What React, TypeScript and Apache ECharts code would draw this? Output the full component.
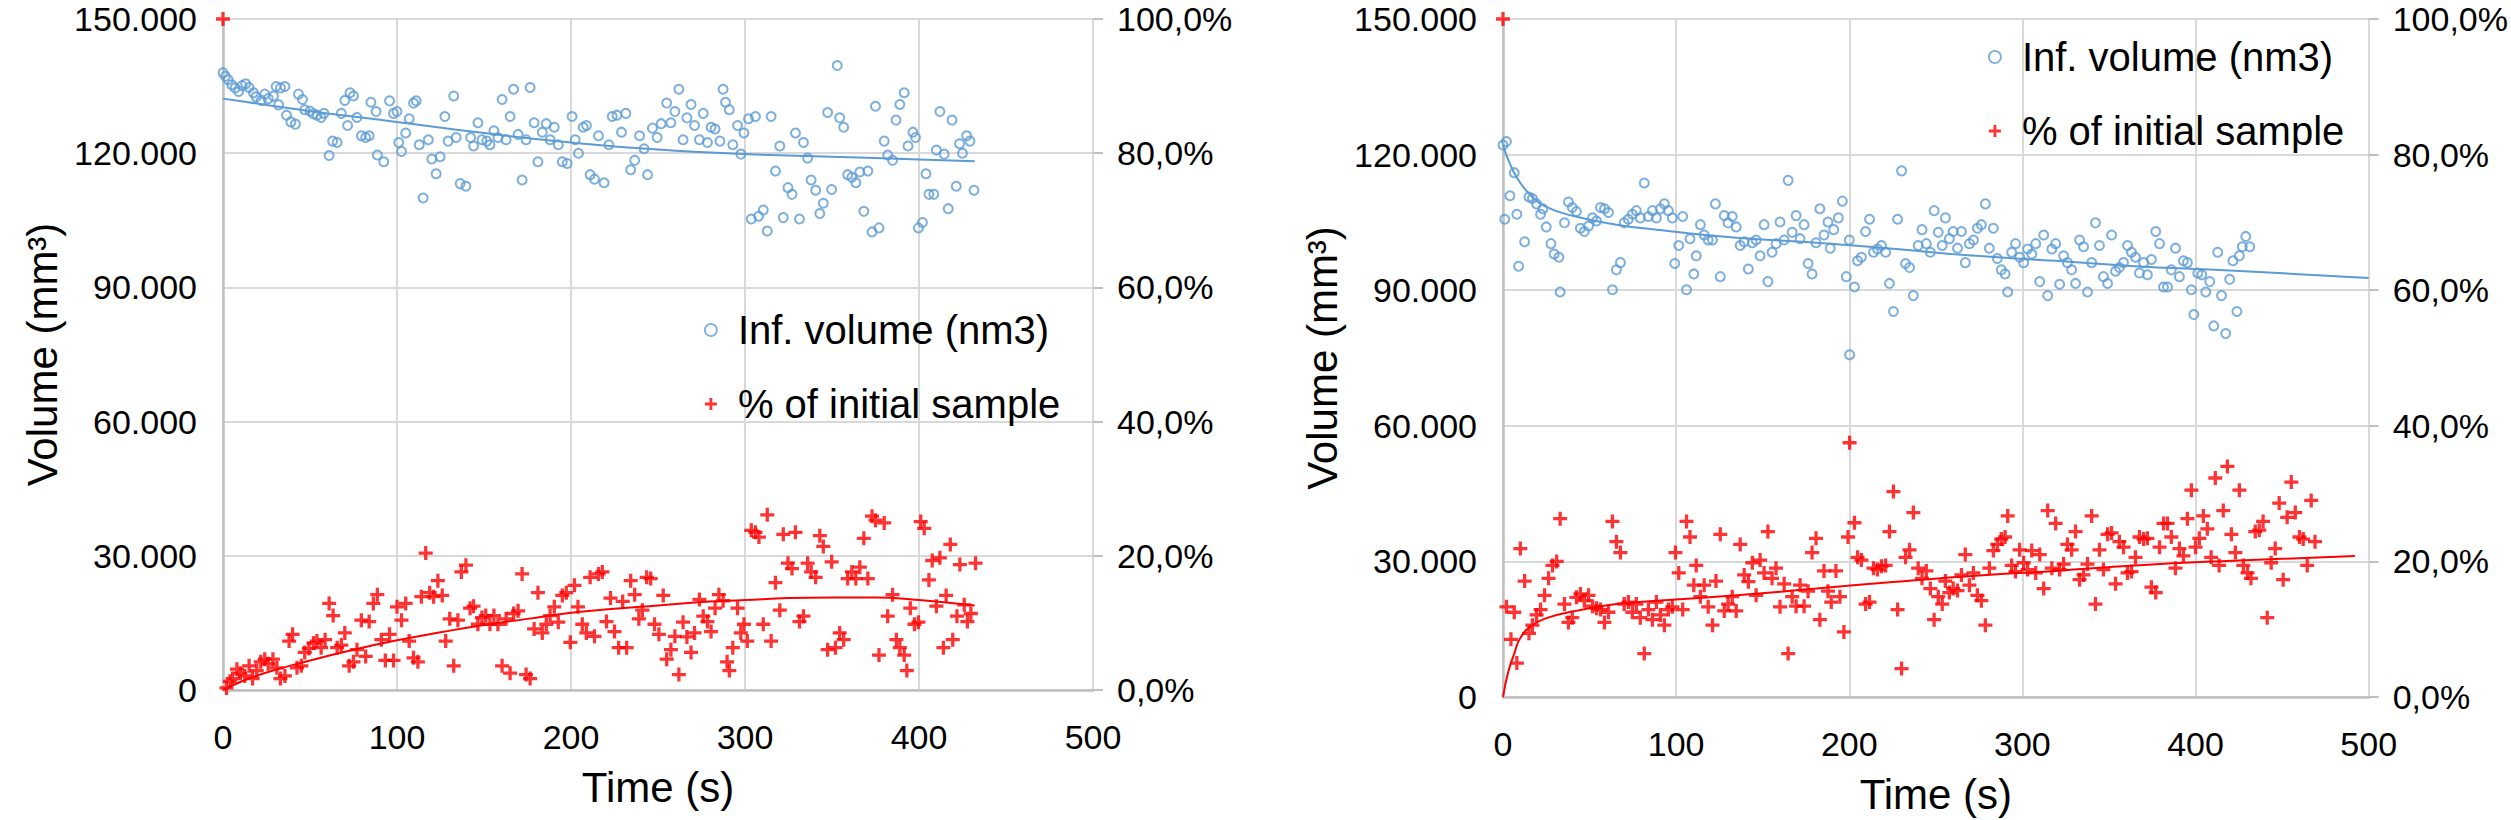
import React, { useEffect, useRef } from "react";
import * as echarts from "echarts";

// Series names (legend)
const NAME_VOL = "Inf. volume (nm3)";
const NAME_PCT = "% of initial sample";

// Axis ranges / ticks
const TIME_MAX = 500;
const TIME_STEP = 100;
const VOL_MAX = 150; // thousands
const VOL_STEP = 30;
const PCT_MAX = 100;
const PCT_STEP = 20;

// Left panel: volume [time s, volume in thousands]
const volA: number[][] = [
  [0,138],[1.4,137.2],[3,136.4],[5,135.3],[7,134.6],[9,133.8],[11,135.1],[13,135.5],[15,134.7],[17.5,133.5],
  [19,132.6],[22,131.8],[24,133.2],[26,132.2],[29,132.8],[30.5,134.9],[33,134.6],[35.6,134.9],[32,130.8],[36.5,128.5],
  [39,127],[41.6,126.5],[43.4,133.2],[45.7,132],[47,129.7],[50,129.4],[52,128.8],[54,128.5],[56.4,128],[58,128.9],
  [61,119.5],[63,122.7],[65.6,122.4],[68,128.9],[70,131.8],[73,133.5],[75,132.8],[71.6,126.2],[77,128],[79.5,123.9],
  [82,123.5],[84,123.9],[85,131.4],[88,129.3],[88.7,119.6],[92.4,118.1],[95.7,131.7],[98,128.9],[100,129.3],[101,122.4],
  [102.6,120.4],[105,124.5],[107,127.7],[109.5,131.2],[111,131.7],[112.8,121.9],[115,110],[118,123],[120,118.7],[122.5,115.4],
  [124.8,119.2],[127.5,128.2],[129.4,122.7],[132.6,132.8],[134,123.5],[136.3,113.2],[139.6,112.6],[142.3,123.5],[144,121.6],[146.5,126.8],
  [148.8,123],[151.6,122.7],[153.4,121.9],[155.7,125],[158,123.5],[160.4,132],[162.7,123],[165,128.2],[167,134.3],[169.6,124.2],
  [171.9,114],[174.2,123],[176.5,134.7],[178.8,126.8],[181,118.1],[183.5,124.7],[185.8,126.6],[188,123],[190.4,125.8],[192.7,121.9],
  [195,118.1],[197.8,117.7],[200.6,128.2],[202.4,123],[204.3,120],[207,125.8],[208.9,126.2],[211,115.2],[213.5,114.2],[215.8,123.9],
  [219,113.4],[221.8,121.9],[223.7,128.2],[226.4,128.5],[229,124.7],[231.5,128.9],[234.3,116.3],[236.6,118.4],[239.4,123.9],[242,121],
  [244,115.2],[246.8,125.6],[249.5,123.5],[251.8,126.6],[255,131.2],[257.4,126.8],[259.7,129.3],[262,134.3],[264.4,123],[266.6,127.9],
  [269,130.9],[271,126.2],[273.8,123],[276,128.9],[278.4,122.4],[280.5,125.8],[282.8,125.4],[285.6,122.7],[287.4,134.3],[288.8,131.4],
  [291,129.7],[293,121.9],[295.7,126.2],[297.6,119.8],[299.4,124.5],[302,127.7],[303.6,105.3],[306,128.2],[307.8,105.9],[310.5,107.3],
  [312.8,102.6],[315,128.2],[317.5,116],[320,121.6],[322,105.6],[324.7,112.3],[327,110.8],[329,124.5],[331.3,105.3],[333.6,122.4],
  [336,118.9],[338,114],[340.6,111.7],[343,106.5],[345,108.8],[347.5,129.1],[349.8,111.9],[353,139.6],[354.4,127.9],[356.7,125.8],
  [359,115.2],[361.4,114.6],[363.7,113.4],[366,115.8],[368.3,107],[370.6,116],[373,102.4],[375,130.5],[377,103.3],[380,122.7],
  [382,119.6],[384.8,118.4],[386.8,127.4],[389,130.9],[391.5,133.5],[393.7,121.6],[396.5,124.7],[398,123.5],[399.7,103.3],[402,104.5],
  [404,115.4],[405.7,110.8],[408.5,110.8],[410,120.7],[412,129.3],[414.5,119.8],[416.8,107.6],[419,127.4],[421.4,112.6],[423.3,122.1],
  [425,120],[427.4,123.9],[429.3,122.7],[431.6,111.7]
];

// Left panel: % of initial sample [time s, %]
const pctA: number[][] = [
  [0,100],[2,0.3],[4,1.3],[5.5,1.7],[8,3.1],[10,2.5],[12.5,2.1],[15,3.6],[17,1.7],[19.4,2.9],
  [21.7,4.2],[24,4.6],[26,3.9],[28.7,4.6],[31,3.3],[33,1.7],[35.6,2.1],[38,7.3],[40,8.3],[42.5,3.3],
  [45,3.6],[47,5.6],[49.4,6.2],[52,7],[54,7.3],[56.4,6.3],[58.7,7.5],[61,12.9],[63.3,11.1],[65.6,6.3],
  [68,6.7],[70,8.5],[72.5,3.6],[75,4.2],[77,6],[79.5,10.4],[82,5],[84,10.2],[86.4,12.9],[88.7,14.2],
  [91,7.5],[93.3,4.4],[95.7,8.3],[98,4.4],[100,12.4],[102.6,10.4],[105,12.9],[107,7.3],[109.5,4.8],[112,4.2],
  [114,13.9],[116.5,20.4],[118.8,14.5],[121,13.9],[123.5,16.3],[126,14.1],[128,7.3],[130.3,10.6],[132.6,3.6],[135,10.4],
  [137,17.6],[139.6,18.6],[142,12.2],[144,12.5],[146.5,9.8],[148.8,10.8],[151,11.1],[153.4,9.8],[155.7,11.1],[158,9.8],
  [160.4,3.6],[162.7,10.6],[165,2.5],[167,11.4],[169.6,11.8],[171.9,17.3],[174.2,2.3],[176.5,1.7],[178.8,9.1],[181,14.5],
  [183.5,8.5],[185.8,9.8],[188,11.1],[190.4,12.4],[192.7,10.1],[195,14.1],[197.3,14.5],[199.6,7.1],[202,15.6],[204,12.4],
  [206.5,9.8],[208.8,8.5],[211,16.8],[213.5,8],[215.8,17.3],[218,17.6],[220.4,10.2],[222.7,13.7],[225,8.7],[227.4,6.3],
  [229.7,13.2],[232,6.3],[234.3,16.3],[236.6,14.2],[239,10.6],[241,11.9],[243.5,16.8],[245.8,16.6],[248,9.8],[250.5,8.3],
  [253,14.1],[255,4.6],[257.4,6],[259.7,8],[262,2.3],[264.4,10.1],[266.6,7.9],[269,5.6],[271,8.5],[273.8,13.5],
  [276,11],[278.4,10.2],[280.5,8.7],[282.8,12.2],[285,14.2],[287.4,13.3],[289.7,4.2],[291,2.9],[293,6.3],[295.7,12.2],
  [297.6,8.5],[299.4,9.8],[301.3,7.3],[303.6,23.8],[306,23.5],[308,22.8],[310.5,9.8],[312.8,26.1],[315,7.3],[317.5,16],
  [320,11.9],[322,23.2],[324.7,18.9],[327,18.1],[329,23.5],[331.3,10.2],[333.6,11],[336,18.9],[338,17.6],[340.6,16.8],
  [343,23],[345,21.4],[347.5,6],[349.8,19.1],[352,6.3],[354.4,8.5],[356.7,7.5],[359,16.6],[361.4,17.6],[363.7,16.6],
  [366,18.3],[368.3,22.6],[370.6,16.6],[373,25.9],[375,25.3],[377,5.2],[380,24.9],[382,11],[384.8,14.2],[387,7.5],
  [389,6.3],[391.5,5.2],[393,2.9],[395,12.2],[397.4,9.8],[399.7,10.1],[401,25.1],[403,24.1],[405.7,16.4],[407.6,19.3],
  [410,12.5],[412,19.7],[414,6.3],[415.6,14.1],[418,21.7],[419.4,7.5],[421.8,11],[423.5,18.7],[426,12.7],[427.8,10.2],
  [429.8,11.4],[432.5,18.9]
];

// Left panel trend lines
const volTrendA: number[][] = [
  [0,132.2],[25,130.8],[50,129.4],[100,127],[150,124.5],[200,122.4],[250,120.8],[300,119.8],[350,119.2],[400,118.6],[432,118.2]
];
const pctTrendA: number[][] = [
  [0,0],[10,1.2],[25,2.6],[50,4.4],[75,6],[100,7.4],[125,8.6],[150,9.7],[175,10.6],[200,11.5],
  [225,12.1],[250,12.6],[275,13.1],[300,13.4],[325,13.7],[350,13.8],[375,13.8],[400,13.4],[432,12.6]
];

// Right panel: volume [time s, volume in thousands]
const volB: number[][] = [
  [0,122.1],[2,122.9],[1,105.7],[4,110.9],[6.5,116],[8,106.8],[9,95.3],[12.5,100.7],[15,110.6],[17,110.3],
  [19.4,109.1],[21.7,106.8],[23,108],[25,104],[27.7,100.3],[29.5,98],[32.3,97.3],[33,89.6],[35.5,104.9],[37.8,109.5],
  [40,108.3],[42.4,107.4],[44.7,103.7],[47,103],[49.4,104.2],[51.7,106],[54,105.3],[56.3,108.3],[58.6,108],[60.9,107.2],
  [63.2,90.1],[65.5,94.5],[67.8,96.1],[70,104.9],[72.4,105.7],[74.7,106.8],[77,107.6],[79.3,106],[81.6,113.7],[84,106.3],
  [86.3,107.6],[88.6,106],[90.9,108],[93.2,109.1],[95.5,107.6],[97.8,106],[99.2,95.9],[101.5,99.9],[103.8,106.3],[106,90.1],
  [108,101.4],[110.2,93.6],[111.6,97.6],[114,104.5],[116.2,102.2],[118.5,101.1],[121,101.1],[122.7,109.1],[125.5,93],[127.8,106.5],
  [130,104.9],[132.4,106.3],[134.7,104],[137,99.9],[139.3,100.7],[141.7,94.7],[144,100.5],[146.2,101.1],[148.5,97.6],[150.8,104.5],
  [153,91.9],[155.4,98.4],[157.7,100.3],[160,105.1],[162.4,101.1],[164.7,114.3],[167,102.8],[169.3,106.5],[171.6,101.4],[173.9,104.5],
  [176.2,95.9],[178.5,93.6],[180.8,100.5],[183,108],[185.4,102.2],[187.7,105.1],[189,99.3],[191,103.4],[193.7,106],[196,109.7],
  [198.3,93],[200,101.1],[200.2,75.7],[203,90.7],[204.8,96.5],[207,97.3],[209.4,103],[211.7,105.7],[214,98.4],[216.3,99.1],
  [218.6,99.9],[221,98.4],[223.2,91.5],[225.5,85.3],[227.9,105.7],[230.2,116.4],[232.5,95.9],[234.8,95],[237,88.8],[239.8,99.9],
  [242,103.4],[244.5,100.3],[246.8,98.4],[249,107.6],[251.4,102.8],[253.7,99.9],[255.5,106],[257.8,101.4],[260,103],[262.5,99.3],
  [264.8,103],[267,96.1],[269.4,100.3],[271.7,101.1],[274,103.7],[276.3,104.5],[278.6,109.1],[280.9,99.3],[283.2,103.7],[285.5,97],
  [287.8,94.5],[290,93.6],[291.5,89.6],[293.8,98.4],[296,100.3],[298.4,97.3],[300.7,96.1],[303,99.1],[305.4,98],[307.7,100.3],
  [310,91.9],[312.3,102.2],[314.6,88.8],[317,99.1],[319.2,100.3],[321.5,91.3],[323.8,97.6],[326,96.1],[328.4,94.5],[330.7,91.5],
  [333,101.1],[335.3,99.6],[337.6,89.6],[340,96.1],[342.2,104.9],[344.5,99.9],[346.8,93],[349.2,91.5],[351.5,102.2],[353.8,94.2],
  [356,95],[358.4,96.1],[360.7,99.9],[363,98.4],[365.3,97.3],[367.6,93.8],[370,96.1],[372.2,93.4],[374.5,96.8],[377,103],
  [379.2,100.3],[381.5,90.7],[383.8,90.7],[386,94.5],[388.4,99.3],[390.7,93],[393,96.5],[395.3,96.1],[397.6,90.1],[399,84.6],
  [401.3,93.8],[403.6,93.4],[405.9,89.6],[408.2,91.9],[410.5,82.1],[412.8,98.4],[415,88.8],[417.4,80.4],[419.7,92.4],[421.6,96.5],
  [423.9,85.3],[425.3,97.6],[427,99.6],[429,101.9],[431.3,99.6]
];

// Right panel: % of initial sample [time s, %]
const pctB: number[][] = [
  [0,100],[2,13.3],[4.6,8.5],[6.5,12.5],[8,5],[10,21.9],[12.5,17.1],[15,9.4],[17,10.6],[19.4,12.1],
  [21.7,12.9],[24,15],[26.3,17.5],[28.6,19.4],[31,20],[33,26.3],[35.5,13.7],[37.8,11],[40,11.7],[42.4,14.7],
  [44.7,15.2],[47,14.2],[49.4,15],[51.7,13.4],[54,13.1],[56.3,12.9],[58.6,11],[60.9,12.5],[63.2,25.9],[65.5,22.9],
  [67.8,21.3],[70,13.7],[72.4,14],[74.7,12.5],[77,13.7],[79.3,11.7],[81.6,6.4],[84,12.9],[86.3,11.4],[88.6,14],
  [90.9,12.1],[93.2,10.6],[95.5,12.9],[97.8,13.3],[99.6,21.3],[101.5,18.3],[103.8,12.9],[106,25.9],[108,23.6],[110.2,16.5],
  [111.6,19.4],[114,14.8],[116.2,16.5],[118.5,13.3],[121,10.6],[123,17.1],[125.5,24],[127.8,12.7],[130,13.7],[132.4,14.8],
  [134.7,12.7],[137,22.5],[139.3,18],[141.7,17],[144,19.8],[146.2,15],[148.5,20.2],[150.8,18.3],[153,24.4],[155.4,17.5],
  [157.7,19],[160,13.3],[162.4,16.7],[164.7,6.4],[167,14.8],[169.3,13.4],[171.6,16.5],[173.9,13.4],[176.2,15.6],[178.5,21.3],
  [180.8,23.4],[183,11.4],[185.4,18.6],[187.7,15.6],[189.6,14],[192.3,18.6],[194.6,14.8],[196.9,9.6],[199.3,23.6],[200.2,37.5],
  [203,25.7],[204.8,20.6],[207,20.2],[209.4,13.7],[211.7,14],[214,19],[216.3,18.8],[218.6,19.3],[221,19.4],[223.2,24.4],
  [225.5,30.3],[227.9,12.9],[230.2,4.2],[232.5,20.6],[234.8,21.7],[237,27.2],[239.8,19],[242,17.5],[244.5,18.6],[246.8,16],
  [249,11.4],[251.4,14.8],[253.7,13.7],[255.5,17.1],[257.8,15.4],[260,16],[262.5,15.7],[264.8,18],[267,21],[269.4,16.5],
  [271.7,18.3],[274,15],[276.3,14.2],[278.6,10.6],[280.9,19],[283.2,21.6],[285.5,22.5],[287.8,23.3],[290,23.6],[291.5,26.7],
  [293.8,19.4],[296,18.5],[298.4,21.7],[300.7,19.8],[303,18.8],[305.4,21.6],[307.7,18.3],[310,21],[312.3,16],[314.6,27.5],
  [317,19],[319.2,25.6],[321.5,18.8],[323.8,19.6],[326,22.5],[328.4,21.7],[330.7,24.4],[333,17.3],[335.3,18],[337.6,19.6],
  [340,26.7],[342.2,13.7],[344.5,21.7],[346.8,18.8],[349.2,24],[351.5,24.2],[353.8,16.7],[356,22.9],[358.4,22.1],[360.7,18.3],
  [363,18.5],[365.3,20.6],[367.6,23.6],[370,23.3],[372.2,23.4],[374.5,16.2],[377,15.4],[379.2,22.1],[381.5,25.6],[383.8,25.6],
  [386,23.6],[388.4,19],[390.7,21.9],[393,20.8],[395.3,26.3],[397.6,30.5],[400,22.1],[402.2,23.4],[404.5,26.7],[406.8,24.8],
  [409,20.6],[411.4,32.3],[413.6,19.4],[416,27.5],[418.4,34],[420.7,24],[423,21.3],[425.3,30.5],[427.6,19.4],[430,18.3],
  [432,17.5],[434.5,24.4],[436.8,24.6],[439,25.9],[441.4,11.7],[443.7,19.8],[446,21.9],[448.3,28.6],[450.6,17.3],[452.9,26.5],
  [455.3,31.7],[457.6,27.2],[460,23.6],[462.2,23.3],[464.5,19.4],[466.8,29],[469,22.9]
];

// Right panel trend lines
const volTrendB: number[][] = [
  [0,122.1],[3,118.9],[8,114.9],[15,111.4],[24,108.6],[42,106.3],[65.5,104.5],[88.6,103.4],[135,101.6],[181,100.5],
  [227,99.1],[273,97.6],[319,96.5],[365,95.3],[411,94.5],[457,93.6],[500,92.7]
];
const pctTrendB: number[][] = [
  [0,0],[3,3.7],[6.5,6.4],[10,8.7],[17,10.6],[26,11.7],[42,12.7],[65.5,13.7],[88.6,14.2],[135,15],
  [181,16],[227,17],[273,17.9],[319,18.6],[365,19.4],[411,20],[492,20.8]
];

const FONT = "'Liberation Sans', Arial, Helvetica, sans-serif";
const BLUE = "#5b9bd5";
const RED = "#ff0000";
const PLUS = "path://M4.6,0H7.4V4.6H12V7.4H7.4V12H4.6V7.4H0V4.6H4.6Z";

function makeXAxis(gridIndex: number) {
  return {
    gridIndex,
    type: "value",
    min: 0,
    max: TIME_MAX,
    interval: TIME_STEP,
    name: "Time (s)",
    nameLocation: "middle",
    nameGap: 76,
    nameTextStyle: { fontSize: 42, color: "#000", fontFamily: FONT },
    axisLine: { show: true, lineStyle: { color: "#bfbfbf", width: 2.5 } },
    axisTick: { show: false },
    axisLabel: { fontSize: 34, color: "#000", fontFamily: FONT, margin: 30 },
    splitLine: { show: true, lineStyle: { color: "#d9d9d9", width: 2 } },
  };
}

function makeLeftY(gridIndex: number) {
  return {
    gridIndex,
    type: "value",
    position: "left",
    min: 0,
    max: VOL_MAX,
    interval: VOL_STEP,
    name: "Volume (mm³)",
    nameLocation: "middle",
    nameRotate: 90,
    nameGap: 160,
    nameTextStyle: { fontSize: 42, color: "#000", fontFamily: FONT },
    axisLine: { show: true, lineStyle: { color: "#bfbfbf", width: 2.5 } },
    axisTick: { show: false },
    axisLabel: {
      fontSize: 34,
      color: "#000",
      fontFamily: FONT,
      margin: 26,
      formatter: (v: number) => (v === 0 ? "0" : `${v}.000`),
    },
    splitLine: { show: true, lineStyle: { color: "#d9d9d9", width: 2 } },
  };
}

function makeRightY(gridIndex: number) {
  return {
    gridIndex,
    type: "value",
    position: "right",
    min: 0,
    max: PCT_MAX,
    interval: PCT_STEP,
    axisLine: { show: true, lineStyle: { color: "#d9d9d9", width: 2 } },
    axisTick: { show: true, length: 10, lineStyle: { color: "#bfbfbf", width: 2 } },
    axisLabel: {
      fontSize: 34,
      color: "#000",
      fontFamily: FONT,
      margin: 24,
      formatter: (v: number) => `${v.toFixed(1).replace(".", ",")}%`,
    },
    splitLine: { show: false },
  };
}

function panelSeries(xi: number, yl: number, yr: number, vol: number[][], pct: number[][], vt: number[][], pt: number[][]) {
  return [
    {
      name: NAME_VOL,
      type: "scatter",
      xAxisIndex: xi,
      yAxisIndex: yl,
      data: vol,
      symbol: "circle",
      symbolSize: 9,
      itemStyle: { color: "rgba(255,255,255,0)", borderColor: BLUE, borderWidth: 2 },
      z: 3,
    },
    {
      name: NAME_PCT,
      type: "scatter",
      xAxisIndex: xi,
      yAxisIndex: yr,
      data: pct,
      symbol: PLUS,
      symbolSize: 14,
      itemStyle: { color: RED },
      z: 3,
    },
    {
      name: "vol-trend-" + xi,
      type: "line",
      xAxisIndex: xi,
      yAxisIndex: yl,
      data: vt,
      smooth: true,
      showSymbol: false,
      lineStyle: { color: BLUE, width: 2 },
      z: 4,
    },
    {
      name: "pct-trend-" + xi,
      type: "line",
      xAxisIndex: xi,
      yAxisIndex: yr,
      data: pt,
      smooth: true,
      showSymbol: false,
      lineStyle: { color: RED, width: 2 },
      z: 4,
    },
  ];
}

function makeLegend(left: number, top: number) {
  return {
    orient: "vertical",
    left,
    top,
    itemGap: 34,
    itemWidth: 12,
    itemHeight: 12,
    selectedMode: false,
    textStyle: { fontSize: 40, color: "#000", fontFamily: FONT, lineHeight: 40, padding: [0, 0, 0, 16] },
    data: [
      { name: NAME_VOL, icon: "circle", itemStyle: { color: "rgba(255,255,255,0)", borderColor: BLUE, borderWidth: 1.8 } },
      { name: NAME_PCT, icon: PLUS, itemStyle: { color: RED } },
    ],
  };
}

export default function App() {
  const ref = useRef<HTMLDivElement>(null);
  useEffect(() => {
    document.body.style.margin = "0";
    if (!ref.current) return;
    const chart = echarts.init(ref.current, undefined, { renderer: "svg" });
    chart.setOption({
      animation: false,
      backgroundColor: "#ffffff",
      textStyle: { fontFamily: FONT },
      grid: [
        { left: 223, top: 19, width: 870, height: 671 },
        { left: 1503, top: 19, width: 869, height: 678 },
      ],
      legend: [makeLegend(699, 305), makeLegend(1983, 32)],
      xAxis: [makeXAxis(0), makeXAxis(1)],
      yAxis: [makeLeftY(0), makeRightY(0), makeLeftY(1), makeRightY(1)],
      series: [
        ...panelSeries(0, 0, 1, volA, pctA, volTrendA, pctTrendA),
        ...panelSeries(1, 2, 3, volB, pctB, volTrendB, pctTrendB),
      ],
    });
    return () => chart.dispose();
  }, []);
  return (
    <div
      ref={ref}
      style={{ position: "fixed", left: 0, top: 0, width: 2511, height: 820, background: "#fff" }}
    />
  );
}
